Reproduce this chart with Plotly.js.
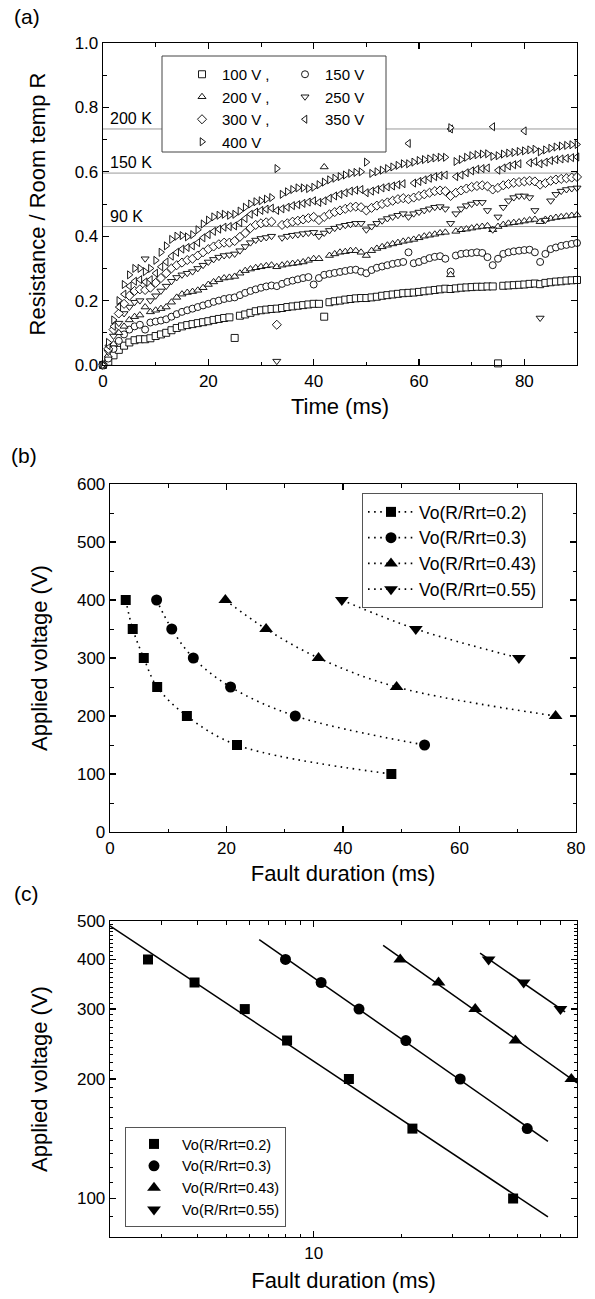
<!DOCTYPE html>
<html><head><meta charset="utf-8">
<script src="https://cdn.plot.ly/plotly-3.0.1.min.js"></script>
<style>html,body{margin:0;padding:0;background:#fff;} #chart{width:595px;height:1299px;}</style>
</head><body><div id="chart"></div>
<script>
// ---------- Panel (a) data ----------
const timeMs = [0,1,2,3,4,5,6,7,8,9,10,11,12,13,14,15,16,17,18,19,20,21,22,23,24,25,26,27,28,29,30,31,32,33,34,35,36,37,38,39,40,41,42,43,44,45,46,47,48,49,50,51,52,53,54,55,56,57,58,59,60,61,62,63,64,65,66,67,68,69,70,71,72,73,74,75,76,77,78,79,80,81,82,83,84,85,86,87,88,89,90];
const r100V = [0,0.01,0.03,0.047,0.06,0.07,0.077,0.08,0.08,0.083,
  0.09,0.095,0.1,0.108,0.115,0.12,0.124,0.127,0.13,0.133,
  0.136,0.14,0.143,0.146,0.148,0.084,0.153,0.157,0.162,0.167,
  0.17,0.172,0.174,0.175,0.177,0.18,0.182,0.184,0.186,0.188,
  0.19,0.19,0.15,0.195,0.198,0.2,0.203,0.205,0.207,0.208,
  0.208,0.21,0.212,0.215,0.217,0.219,0.221,0.223,0.224,0.225,
  0.227,0.229,0.231,0.233,0.235,0.237,0.236,0.238,0.24,0.241,
  0.242,0.243,0.243,0.244,0.244,0.005,0.246,0.247,0.248,0.249,
  0.25,0.252,0.253,0.251,0.255,0.257,0.259,0.26,0.262,0.263,0.264];
const r150V = [0,0.02,0.05,0.075,0.095,0.11,0.12,0.125,0.11,0.132,
  0.135,0.138,0.142,0.15,0.158,0.165,0.17,0.175,0.18,0.185,
  0.19,0.196,0.2,0.205,0.208,0.21,0.217,0.224,0.23,0.235,
  0.24,0.244,0.247,0.245,0.252,0.258,0.262,0.266,0.27,0.273,
  0.25,0.27,0.28,0.283,0.286,0.289,0.292,0.295,0.296,0.29,
  0.285,0.295,0.302,0.306,0.31,0.314,0.317,0.32,0.35,0.316,
  0.32,0.326,0.332,0.336,0.338,0.33,0.29,0.34,0.345,0.347,
  0.348,0.35,0.348,0.335,0.31,0.33,0.345,0.35,0.353,0.355,
  0.357,0.358,0.35,0.32,0.345,0.36,0.365,0.37,0.373,0.376,0.379];
const r200V = [0,0.03,0.065,0.1,0.12,0.14,0.15,0.155,0.18,0.165,
  0.17,0.175,0.18,0.195,0.21,0.22,0.225,0.228,0.232,0.24,
  0.25,0.258,0.265,0.27,0.272,0.275,0.285,0.293,0.298,0.302,
  0.305,0.308,0.31,0.305,0.31,0.313,0.315,0.317,0.32,0.325,
  0.33,0.33,0.615,0.34,0.345,0.35,0.352,0.355,0.355,0.35,
  0.34,0.355,0.362,0.367,0.372,0.376,0.38,0.384,0.387,0.39,
  0.395,0.4,0.403,0.406,0.41,0.412,0.28,0.415,0.42,0.422,
  0.425,0.428,0.43,0.432,0.42,0.43,0.436,0.44,0.442,0.444,
  0.447,0.45,0.452,0.445,0.452,0.455,0.458,0.46,0.462,0.464,0.466];
const r250V = [0,0.04,0.09,0.13,0.16,0.18,0.195,0.2,0.33,0.2,
  0.215,0.23,0.245,0.26,0.272,0.28,0.285,0.29,0.3,0.31,
  0.32,0.328,0.335,0.34,0.342,0.345,0.355,0.368,0.38,0.388,
  0.393,0.396,0.4,0.012,0.395,0.4,0.403,0.405,0.408,0.41,
  0.412,0.4,0.41,0.418,0.425,0.43,0.434,0.437,0.44,0.44,
  0.42,0.43,0.44,0.448,0.455,0.46,0.465,0.47,0.46,0.47,
  0.475,0.48,0.485,0.49,0.492,0.485,0.44,0.47,0.485,0.495,
  0.5,0.505,0.505,0.48,0.42,0.46,0.49,0.51,0.52,0.525,
  0.525,0.52,0.48,0.146,0.45,0.51,0.53,0.54,0.545,0.548,0.55];
const r300V = [0,0.05,0.11,0.16,0.19,0.215,0.23,0.235,0.233,0.24,
  0.255,0.27,0.285,0.3,0.31,0.318,0.326,0.33,0.34,0.35,
  0.36,0.368,0.375,0.38,0.38,0.385,0.398,0.41,0.425,0.435,
  0.44,0.443,0.445,0.125,0.435,0.44,0.445,0.448,0.452,0.456,
  0.46,0.45,0.46,0.468,0.475,0.48,0.485,0.49,0.492,0.49,
  0.48,0.488,0.495,0.5,0.505,0.51,0.515,0.518,0.515,0.52,
  0.525,0.53,0.535,0.54,0.542,0.54,0.525,0.535,0.542,0.548,
  0.553,0.556,0.558,0.555,0.545,0.55,0.558,0.562,0.566,0.568,
  0.57,0.572,0.57,0.56,0.565,0.572,0.576,0.578,0.58,0.582,0.584];
const r350V = [0,0.06,0.12,0.18,0.22,0.245,0.26,0.265,0.258,0.265,
  0.285,0.305,0.32,0.338,0.35,0.36,0.365,0.37,0.38,0.395,
  0.405,0.415,0.422,0.428,0.43,0.432,0.442,0.455,0.468,0.475,
  0.48,0.484,0.487,0.48,0.485,0.49,0.495,0.498,0.502,0.506,
  0.51,0.505,0.51,0.518,0.525,0.53,0.535,0.54,0.543,0.545,
  0.535,0.54,0.545,0.55,0.553,0.556,0.56,0.563,0.688,0.565,
  0.57,0.575,0.58,0.585,0.588,0.59,0.733,0.585,0.59,0.597,
  0.603,0.608,0.61,0.612,0.74,0.605,0.612,0.618,0.622,0.625,
  0.727,0.628,0.632,0.625,0.63,0.635,0.638,0.64,0.642,0.644,0.646];
const r400V = [0,0.07,0.14,0.2,0.25,0.28,0.3,0.3,0.29,0.3,
  0.325,0.35,0.37,0.39,0.4,0.402,0.398,0.405,0.42,0.438,
  0.45,0.46,0.465,0.468,0.465,0.468,0.478,0.49,0.5,0.507,
  0.51,0.515,0.52,0.61,0.53,0.538,0.545,0.55,0.55,0.548,
  0.552,0.56,0.568,0.575,0.58,0.585,0.59,0.595,0.598,0.6,
  0.63,0.595,0.6,0.605,0.61,0.615,0.62,0.625,0.625,0.63,
  0.635,0.638,0.64,0.643,0.645,0.645,0.737,0.632,0.638,0.645,
  0.65,0.653,0.655,0.656,0.648,0.65,0.655,0.658,0.66,0.663,
  0.665,0.668,0.67,0.662,0.668,0.673,0.677,0.68,0.682,0.684,0.685];
const namesA = ["100 V ,","150 V","200 V ,","250 V","300 V ,","350 V","400 V"];
const tempLevels = [0.733, 0.596, 0.43];
const tempLabels = ["200 K", "150 K", "90 K"];

// ---------- Panels (b) and (c) data ----------
const namesBC = ["Vo(R/Rrt=0.2)", "Vo(R/Rrt=0.3)", "Vo(R/Rrt=0.43)", "Vo(R/Rrt=0.55)"];
const dur020 = [2.7, 3.9, 5.8, 8.1, 13.2, 21.8, 48.3];
const volt020 = [400, 350, 300, 250, 200, 150, 100];
const dur030 = [8.0, 10.6, 14.3, 20.7, 31.8, 54.0];
const volt030 = [400, 350, 300, 250, 200, 150];
const dur043 = [19.8, 26.8, 35.8, 49.2, 76.5];
const volt043 = [400, 350, 300, 250, 200];
const dur055 = [39.8, 52.5, 70.2];
const volt055 = [400, 350, 300];
const fitStart = [2.0, 6.5, 17.3, 37.2];
const fitEnd = [63.6, 63.6, 80, 72.8];
const logYTicks = [100, 200, 300, 400, 500];
const logXTicks = [10];

// ---------- build ----------
const FONT = "Liberation Sans, Arial, Helvetica, sans-serif";
const seriesA = [r100V, r150V, r200V, r250V, r300V, r350V, r400V];
const symbolsA = ["square","circle","triangle-up","triangle-down","diamond","triangle-left","triangle-right"];
const legendA = ["legend","legend2","legend","legend2","legend","legend2","legend"];
const traces = [];
seriesA.forEach((vals, i) => {
  traces.push({type:"scatter", mode:"markers", x:timeMs, y:vals, name:namesA[i],
    xaxis:"x", yaxis:"y", legend:legendA[i], cliponaxis:false,
    marker:{symbol:symbolsA[i], size:7, color:"#fff", line:{color:"#000", width:0.9}}});
});
const durs = [dur020, dur030, dur043, dur055];
const volts = [volt020, volt030, volt043, volt055];
const symbolsB = ["square","circle","triangle-up","triangle-down"];
const sizesB = [10, 11, 12, 12];
durs.forEach((d, i) => {
  traces.push({type:"scatter", mode:"lines+markers", x:d, y:volts[i], name:namesBC[i],
    xaxis:"x2", yaxis:"y2", legend:"legend3",
    line:{color:"#000", width:1.6, dash:"1.6px,4.5px", shape:"spline"},
    marker:{symbol:symbolsB[i], size:sizesB[i], color:"#000"}});
});
durs.forEach((d, i) => {
  // least-squares power-law fit in log-log space
  const lx = d.map(Math.log10), ly = volts[i].map(Math.log10);
  const n = lx.length, mx = lx.reduce((a,b)=>a+b,0)/n, my = ly.reduce((a,b)=>a+b,0)/n;
  let sxy = 0, sxx = 0;
  for (let k = 0; k < n; k++) { sxy += (lx[k]-mx)*(ly[k]-my); sxx += (lx[k]-mx)**2; }
  const slope = sxy/sxx;
  const ends = [fitStart[i], fitEnd[i]];
  traces.push({type:"scatter", mode:"lines", x:ends,
    y:ends.map(t => Math.pow(10, my + slope*(Math.log10(t)-mx))),
    xaxis:"x3", yaxis:"y3", showlegend:false, hoverinfo:"skip",
    line:{color:"#000", width:1.5}});
});
durs.forEach((d, i) => {
  traces.push({type:"scatter", mode:"markers", x:d, y:volts[i], name:namesBC[i],
    xaxis:"x3", yaxis:"y3", legend:"legend4",
    marker:{symbol:symbolsB[i], size:sizesB[i], color:"#000"}});
});

const W = 595, H = 1299;
const px = v => v / W, py = v => 1 - v / H;
const ax = {showline:true, linecolor:"#000", linewidth:1.3, mirror:"ticks", ticks:"inside",
  ticklen:6, tickwidth:1.2, tickcolor:"#000", showgrid:false, zeroline:false,
  tickfont:{family:FONT, size:17, color:"#000"}};
const minorStyle = {ticks:"inside", ticklen:3.5, tickwidth:1, tickcolor:"#000", showgrid:false};
const titleFont = {family:FONT, size:22, color:"#000"};

const logYMinor = []; for (let v = 80; v <= 500; v += 10) if (!logYTicks.includes(v)) logYMinor.push(v);
const logXMinor = [3,4,5,6,7,8,9,20,30,40,50,60,70];

const shapes = tempLevels.map(l => ({type:"line", xref:"x", yref:"y", x0:0, x1:90, y0:l, y1:l,
  line:{color:"#999", width:1}, layer:"below"}));
shapes.push({type:"rect", xref:"paper", yref:"paper", x0:px(162), x1:px(386), y0:py(152), y1:py(56),
  fillcolor:"#fff", line:{color:"#444", width:1}, layer:"above"});

const annotations = tempLevels.map((l, i) => ({xref:"x", yref:"y", x:1, y:l, text:tempLabels[i],
  showarrow:false, xanchor:"left", yanchor:"bottom", font:{family:FONT, size:16, color:"#000"}}));
[["(a)", 12, 17], ["(b)", 9, 456], ["(c)", 12, 894]].forEach(p => annotations.push({
  xref:"paper", yref:"paper", x:px(p[1]), y:py(p[2]), text:p[0], showarrow:false,
  xanchor:"left", yanchor:"middle", font:{family:FONT, size:21, color:"#000"}}));

const legBase = {bgcolor:"rgba(0,0,0,0)", borderwidth:0, xanchor:"left", yanchor:"top",
  itemwidth:30, tracegroupgap:0, traceorder:"normal", font:{family:FONT, size:15, color:"#000"}};

const layout = {
  width:W, height:H, margin:{l:0, r:0, t:0, b:0}, paper_bgcolor:"#fff", plot_bgcolor:"#fff",
  font:{family:FONT, color:"#000"},
  xaxis: Object.assign({}, ax, {domain:[px(103), px(577)], anchor:"y", range:[0, 90], tick0:0, dtick:20,
    minor:Object.assign({dtick:10}, minorStyle), title:{text:"Time (ms)", font:titleFont, standoff:9}}),
  yaxis: Object.assign({}, ax, {domain:[py(365), py(43)], anchor:"x", range:[0, 1], tick0:0, dtick:0.2,
    tickformat:".1f", minor:Object.assign({dtick:0.1}, minorStyle),
    title:{text:"Resistance / Room temp R", font:titleFont, standoff:23}}),
  xaxis2: Object.assign({}, ax, {domain:[px(110), px(576)], anchor:"y2", range:[0, 80], tick0:0, dtick:20,
    minor:Object.assign({dtick:10}, minorStyle), title:{text:"Fault duration (ms)", font:titleFont, standoff:9}}),
  yaxis2: Object.assign({}, ax, {domain:[py(832), py(484)], anchor:"x2", range:[0, 600], tick0:0, dtick:100,
    minor:Object.assign({dtick:50}, minorStyle), title:{text:"Applied voltage (V)", font:titleFont, standoff:23}}),
  xaxis3: Object.assign({}, ax, {domain:[px(110), px(577)], anchor:"y3", type:"log",
    range:[Math.log10(2), Math.log10(80)], tickmode:"array", tickvals:logXTicks, ticktext:logXTicks.map(String),
    minor:Object.assign({tickmode:"array", tickvals:logXMinor}, minorStyle),
    title:{text:"Fault duration (ms)", font:titleFont, standoff:11}}),
  yaxis3: Object.assign({}, ax, {domain:[py(1237), py(921)], anchor:"x3", type:"log",
    range:[Math.log10(80), Math.log10(500)], tickmode:"array", tickvals:logYTicks, ticktext:logYTicks.map(String),
    minor:Object.assign({tickmode:"array", tickvals:logYMinor}, minorStyle, {ticklen:3}),
    title:{text:"Applied voltage (V)", font:titleFont, standoff:23}}),
  legend: Object.assign({}, legBase, {x:px(182), y:py(58)}),
  legend2: Object.assign({}, legBase, {x:px(285), y:py(58)}),
  legend3: Object.assign({}, legBase, {x:px(362), y:py(493), bgcolor:"#fff", bordercolor:"#555", borderwidth:1,
    itemwidth:46, font:{family:FONT, size:17.5, color:"#000"}}),
  legend4: Object.assign({}, legBase, {x:px(125), y:py(1127), bgcolor:"#fff", bordercolor:"#555", borderwidth:1,
    itemwidth:46, font:{family:FONT, size:14.5, color:"#000"}}),
  shapes:shapes, annotations:annotations, showlegend:true
};
Plotly.newPlot("chart", traces, layout, {displayModeBar:false, staticPlot:true});
</script></body></html>
